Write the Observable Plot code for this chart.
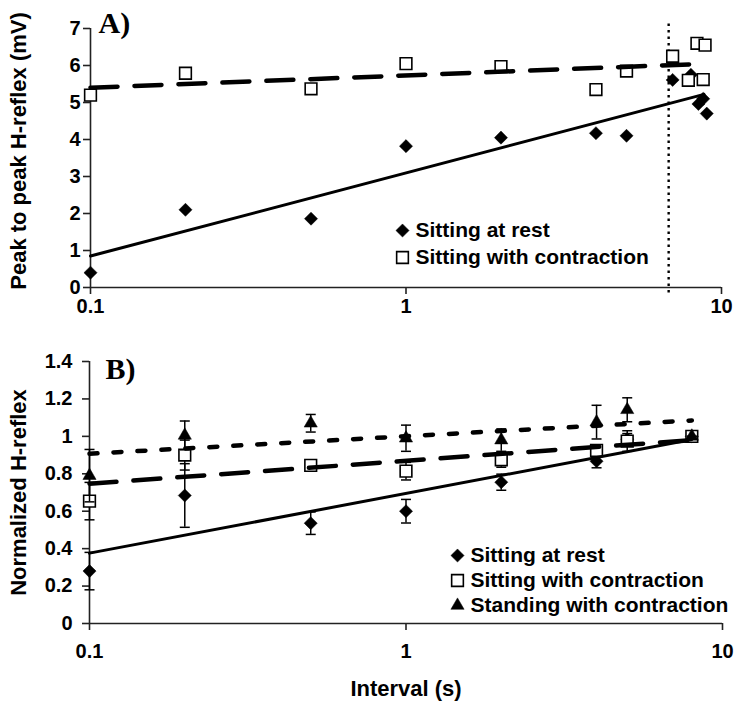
<!DOCTYPE html>
<html><head><meta charset="utf-8">
<script src="https://cdn.jsdelivr.net/npm/d3@7"></script>
<script src="https://cdn.jsdelivr.net/npm/@observablehq/plot@0.6"></script>
<style>
body{margin:0;background:#fff;}
#wrap{position:relative;width:742px;height:708px;overflow:hidden;background:#fff;}
#a,#b{position:absolute;left:0;}
#a{top:0}
#b{top:340px}
</style></head><body><div id="wrap"><div id="a"></div><div id="b"></div></div>
<script>
// ---------- shared ----------
const xTicks = [0.1, 1, 10];
const xTitle = "Interval (s)";
const legendNames = ["Sitting at rest", "Sitting with contraction", "Standing with contraction"];

// ---------- panel A ----------
const aTitle = "Peak to peak H-reflex (mV)";
const aYTicks = [0, 1, 2, 3, 4, 5, 6, 7];
const aRestX = [0.1, 0.2, 0.5, 1, 2, 4, 5, 7, 8, 8.45, 8.75, 8.98];
const aRestY = [0.4, 2.1, 1.86, 3.82, 4.05, 4.17, 4.1, 5.61, 5.75, 4.96, 5.1, 4.7];
const aConX = [0.1, 0.2, 0.5, 1, 2, 4, 5, 7, 7.85, 8.36, 8.87, 8.75];
const aConY = [5.2, 5.79, 5.37, 6.05, 5.97, 5.35, 5.85, 6.25, 5.6, 6.6, 6.55, 5.62];
const aRestFitX = [0.1, 8.8];
const aRestFitY = [0.85, 5.22];
const aConFitX = [0.1, 7.9];
const aConFitY = [5.4, 6.03];
const aMarkerX = [6.8];

// ---------- panel B ----------
const bTitle = "Normalized H-reflex";
const bYTicks = [0, 0.2, 0.4, 0.6, 0.8, 1, 1.2, 1.4];
const bX = [0.1, 0.2, 0.5, 1, 2, 4, 5, 8];
const bRestY = [0.28, 0.684, 0.536, 0.6, 0.755, 0.867, 0.985, 1.0];
const bRestErr = [0.1, 0.17, 0.06, 0.063, 0.043, 0.035, 0.03, 0];
const bConY = [0.654, 0.9, 0.845, 0.814, 0.875, 0.925, 0.975, 1.0];
const bConErr = [0.1, 0.08, 0.03, 0.047, 0.04, 0.03, 0.055, 0];
const bStandY = [0.79, 1.005, 1.07, 0.99, 0.98, 1.076, 1.142, 1.0];
const bStandErr = [0.14, 0.077, 0.047, 0.07, 0.06, 0.09, 0.064, 0];
const bRestFitX = [0.1, 8], bRestFitY = [0.376, 0.983];
const bConFitX = [0.1, 8], bConFitY = [0.747, 0.98];
const bStandFitX = [0.1, 8], bStandFitY = [0.907, 1.085];

// ---------- helpers ----------
const pts = (xs, ys) => xs.map((x, i) => ({x, y: ys[i]}));
const errPts = (xs, ys, es) => xs.map((x, i) => ({x, y: ys[i], lo: ys[i] - es[i], hi: ys[i] + es[i]}));
const cap = {draw(ctx, size) { const r = Math.sqrt(size / Math.PI); ctx.moveTo(-r, 0); ctx.lineTo(r, 0); }};
const SANS = "'Liberation Sans', Arial, Helvetica, sans-serif";
const SERIF = "'Liberation Serif', 'Times New Roman', serif";
const sym = {
  rest: {symbol: "diamond2", r: 5.9, fill: "black", stroke: "black", strokeWidth: 0.5},
  con: {symbol: "square", r: 6.6, fill: "white", stroke: "black", strokeWidth: 1.6},
  stand: {symbol: "triangle", r: 4.9, fill: "black", stroke: "black", strokeWidth: 0.5}
};
const DASH = "27,17";
const SHORT = "8,16";

function axes(yTicks, o) {
  return [
    Plot.ruleY([0], {stroke: "#222", strokeWidth: 1.6}),
    Plot.ruleX([0.1], {stroke: "#222", strokeWidth: 1.6}),
    Plot.axisY(yTicks, {tickSize: 7, tickPadding: o.yPad, fontSize: 20, fontWeight: "bold", label: null,
      tickFormat: d => String(d), stroke: "#222", strokeWidth: 1.6}),
    Plot.axisX(xTicks, {tickSize: 7, tickPadding: o.xPad, fontSize: 20, fontWeight: "bold", label: null,
      tickFormat: d => String(d), stroke: "#222", strokeWidth: 1.6})
  ];
}

function legend(keys, dxM, dxT, dy0, step) {
  const marks = [];
  keys.forEach((k, i) => {
    marks.push(Plot.dot([legendNames[i]], {frameAnchor: "top-left", dx: dxM, dy: dy0 + i * step, ...sym[k]}));
    marks.push(Plot.text([legendNames[i]], {frameAnchor: "top-left", dx: dxT, dy: dy0 + i * step,
      text: d => d, textAnchor: "start", lineAnchor: "middle", fontSize: 21, fontWeight: "bold", fill: "black"}));
  });
  return marks;
}

// ---------- chart A ----------
const chartA = Plot.plot({
  width: 742, height: 340,
  marginLeft: 90, marginRight: 21, marginTop: 28, marginBottom: 53,
  x: {type: "log", domain: [0.1, 10]},
  y: {domain: [0, 7]},
  style: {fontFamily: SANS, color: "black", background: "white", overflow: "visible"},
  marks: [
    ...axes(aYTicks, {yPad: 3, xPad: 4}),
    Plot.ruleX(aMarkerX, {y1: -0.15, y2: 7.12, stroke: "black", strokeWidth: 2.4, strokeDasharray: "2.5,4"}),
    Plot.dot(pts(aRestX, aRestY), {x: "x", y: "y", ...sym.rest}),
    Plot.dot(pts(aConX, aConY), {x: "x", y: "y", ...sym.con}),
    Plot.line(pts(aRestFitX, aRestFitY), {x: "x", y: "y", stroke: "black", strokeWidth: 3}),
    Plot.line(pts(aConFitX, aConFitY), {x: "x", y: "y", stroke: "black", strokeWidth: 4.5, strokeDasharray: DASH}),
    Plot.text([aTitle], {frameAnchor: "left", dx: -72, dy: -7, rotate: -90, text: d => d,
      textAnchor: "middle", lineAnchor: "middle", fontSize: 22, fontWeight: "bold", fill: "black"}),
    Plot.text(["A)"], {frameAnchor: "top-left", dx: 8, dy: 4, text: d => d, textAnchor: "start",
      lineAnchor: "bottom", fontSize: 30, fontWeight: "bold", fontFamily: SERIF, fill: "black"}),
    ...legend(["rest", "con"], 312, 325, 202, 27)
  ]
});
document.getElementById("a").appendChild(chartA);

// ---------- chart B ----------
const rest = errPts(bX, bRestY, bRestErr);
const con = errPts(bX, bConY, bConErr);
const stand = errPts(bX, bStandY, bStandErr);
const errMarks = (data) => [
  Plot.ruleX(data, {x: "x", y1: "lo", y2: "hi", stroke: "black", strokeWidth: 1.5}),
  Plot.dot(data, {x: "x", y: "lo", symbol: cap, r: 5, stroke: "black", fill: "none", strokeWidth: 1.5}),
  Plot.dot(data, {x: "x", y: "hi", symbol: cap, r: 5, stroke: "black", fill: "none", strokeWidth: 1.5})
];

const chartB = Plot.plot({
  width: 742, height: 368,
  marginLeft: 89, marginRight: 20, marginTop: 21, marginBottom: 85,
  x: {type: "log", domain: [0.1, 10]},
  y: {domain: [0, 1.4]},
  style: {fontFamily: SANS, color: "black", background: "white", overflow: "visible"},
  marks: [
    ...axes(bYTicks, {yPad: 10, xPad: 13}),
    ...errMarks(rest),
    Plot.dot(rest, {x: "x", y: "y", ...sym.rest}),
    ...errMarks(con),
    Plot.dot(con, {x: "x", y: "y", ...sym.con}),
    ...errMarks(stand),
    Plot.dot(stand, {x: "x", y: "y", ...sym.stand}),
    Plot.line(pts(bRestFitX, bRestFitY), {x: "x", y: "y", stroke: "black", strokeWidth: 3}),
    Plot.line(pts(bConFitX, bConFitY), {x: "x", y: "y", stroke: "black", strokeWidth: 4.5, strokeDasharray: DASH}),
    Plot.line(pts(bStandFitX, bStandFitY), {x: "x", y: "y", stroke: "black", strokeWidth: 4.5, strokeDasharray: SHORT}),
    Plot.text([bTitle], {frameAnchor: "left", dx: -71, rotate: -90, text: d => d,
      textAnchor: "middle", lineAnchor: "middle", fontSize: 22, fontWeight: "bold", fill: "black"}),
    Plot.text([xTitle], {frameAnchor: "bottom", dy: 65, text: d => d,
      lineAnchor: "middle", fontSize: 22, fontWeight: "bold", fill: "black"}),
    Plot.text(["B)"], {frameAnchor: "top-left", dx: 16, dy: 17, text: d => d, textAnchor: "start",
      lineAnchor: "bottom", fontSize: 30, fontWeight: "bold", fontFamily: SERIF, fill: "black"}),
    ...legend(["rest", "con", "stand"], 368, 381, 194, 25)
  ]
});
document.getElementById("b").appendChild(chartB);
</script>
</body></html>
